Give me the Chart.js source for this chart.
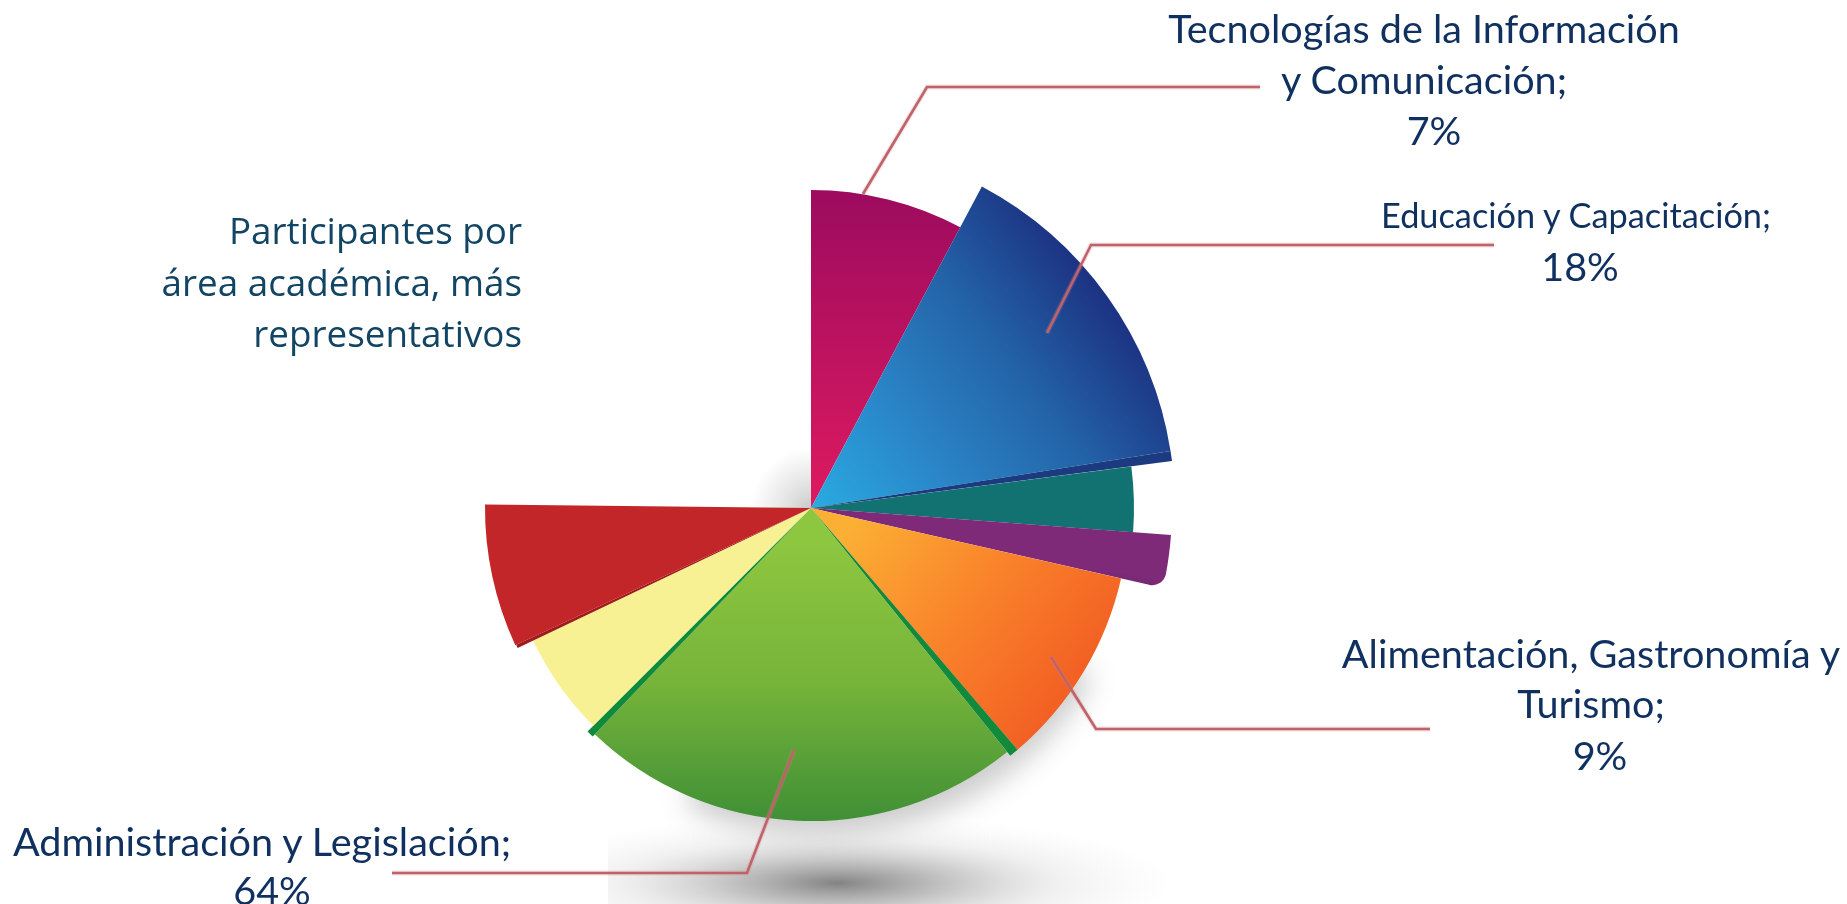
<!DOCTYPE html>
<html lang="es">
<head>
<meta charset="utf-8">
<title>Participantes por área académica</title>
<script src="https://cdn.jsdelivr.net/npm/chart.js@4"></script>
<style>
html,body{margin:0;padding:0;background:#fff;overflow:hidden}
#wrap{position:relative;width:1847px;height:904px;overflow:hidden}
canvas{position:absolute;left:0;top:0}
.t{position:absolute;white-space:nowrap;font-family:Lato,sans-serif;color:#10305f;line-height:1;font-size:39.6px;transform:translate(-50%,0)}
.title{position:absolute;white-space:nowrap;font-family:"Open Sans",sans-serif;color:#124563;font-size:36.8px;text-align:right;right:1325px;top:205px;line-height:51.5px}
</style>
</head>
<body>
<div id="wrap">
<canvas id="c" width="1847" height="904"></canvas>
<div class="title">Participantes por<br>área académica, más<br>representativos</div>
<div class="t" style="left:1424px;top:8px">Tecnologías de la Información</div>
<div class="t" style="left:1424px;top:59px">y Comunicación;</div>
<div class="t" style="left:1434px;top:110px">7%</div>
<div class="t" style="left:1576px;top:198px;font-size:34.3px">Educación y Capacitación;</div>
<div class="t" style="left:1580px;top:246px">18%</div>
<div class="t" style="left:1591px;top:633px">Alimentación, Gastronomía y</div>
<div class="t" style="left:1591px;top:683px">Turismo;</div>
<div class="t" style="left:1600px;top:735px">9%</div>
<div class="t" style="left:262px;top:821px">Administración y Legislación;</div>
<div class="t" style="left:272px;top:870px">64%</div>
</div>
<script>
const sliceLabels = ['Tecnologías de la Información y Comunicación','Educación y Capacitación','Educación y Capacitación (borde)','Área sin etiqueta 1','Área sin etiqueta 2','Alimentación, Gastronomía y Turismo','Administración y Legislación (borde)','Administración y Legislación','Administración y Legislación (borde)','Área sin etiqueta 3','Área sin etiqueta 4 (borde)','Área sin etiqueta 4'];
const sliceSweeps = [28,53,1.6,11.7,8.5,36.7,1.7,82.5,1.3,19.5,0.6,25.5];
const sliceRadii = [318,364,364,323,361,318,318,313,316,308,325,326];

const sliceFills = [
  {from:[0,-0.86],to:[0,0],stops:['#9c0b5e','#de1a60']},
  {from:[0,0],to:[0.78,-0.6],stops:['#29abe2','#2a86c8','#2364a8','#1c3282']},
  {solid:'#1b3a80'},
  {solid:'#127272'},
  {from:[0.8,0.1],to:[0.78,0.24],stops:['#7e2a78','#7e2a78','#56205e']},
  {from:[0.06,0.1],to:[0.7,0.6],stops:['#fbb034','#f9812a','#f15a22']},
  {solid:'#128a3c'},
  {from:[0,0.1],to:[0,0.85],stops:['#8dc63f','#76b43a','#3f8f36']},
  {solid:'#128a3c'},
  {solid:'#f8f194'},
  {solid:'#a01b1e'},
  {solid:'#c32628'}
];
const sliceCorners = [0,0,0,0,{outerEnd:14},0,0,0,0,0,0,0];

const leaders = [
  [[863,194],[927,87],[1260,87]],
  [[1047,333],[1091,245],[1494,245]],
  [[1051,657],[1096,729],[1430,729]],
  [[794,750],[747,873],[392,873]]
];

const backdrop = {
  id:'backdrop',
  beforeDatasetsDraw(chart){
    const c = chart.ctx, s = chart.scales.r, x = s.xCenter, y = s.yCenter;
    c.save();
    c.filter = 'blur(14px)';
    c.fillStyle = 'rgba(0,0,0,.2)';
    c.beginPath(); c.moveTo(x,y);
    c.arc(x+8,y+12,316,30*Math.PI/180,115*Math.PI/180);
    c.closePath(); c.fill();
    c.filter = 'none';
    let g = c.createRadialGradient(x,y,0,x,y,60);
    g.addColorStop(0,'rgba(0,0,0,.18)'); g.addColorStop(1,'rgba(0,0,0,0)');
    c.fillStyle = g; c.fillRect(x-60,y-60,60,60);
    c.restore();
    c.save();
    c.beginPath(); c.rect(608,780,720,124); c.clip();
    c.translate(x+27,y+375); c.scale(1,0.2);
    g = c.createRadialGradient(0,0,0,0,0,340);
    g.addColorStop(0,'rgba(100,100,100,.8)'); g.addColorStop(0.3,'rgba(140,140,140,.55)'); g.addColorStop(0.65,'rgba(190,190,190,.22)'); g.addColorStop(1,'rgba(220,220,220,0)');
    c.fillStyle = g; c.beginPath(); c.arc(0,0,340,0,Math.PI*2); c.fill();
    c.restore();
  },
  afterDatasetsDraw(chart){
    const c = chart.ctx;
    c.save();
    leaders.forEach(pts=>{
      c.beginPath();
      pts.forEach((p,i)=> i?c.lineTo(p[0],p[1]):c.moveTo(p[0],p[1]));
      c.lineJoin='miter';
      c.lineWidth=5; c.strokeStyle='rgba(210,130,130,.25)'; c.stroke();
      c.lineWidth=2.6; c.strokeStyle='#c0626a'; c.stroke();
    });
    c.restore();
  }
};

function fillFor(ctx){
  const f = sliceFills[ctx.dataIndex];
  if(!f) return '#000';
  if(f.solid) return f.solid;
  const s = ctx.chart.scales.r;
  if(!s || !s.drawingArea) return f.stops[0];
  const R = s.drawingArea, x = s.xCenter, y = s.yCenter;
  const g = ctx.chart.ctx.createLinearGradient(x+f.from[0]*R,y+f.from[1]*R,x+f.to[0]*R,y+f.to[1]*R);
  f.stops.forEach((col,i)=>g.addColorStop(i/(f.stops.length-1),col));
  return g;
}

new Chart(document.getElementById('c'),{
  type:'polarArea',
  data:{labels:sliceLabels,datasets:[{data:sliceRadii,angle:sliceSweeps,backgroundColor:fillFor,borderWidth:0,borderRadius:ctx=>sliceCorners[ctx.dataIndex]||0}]},
  options:{
    responsive:false,animation:false,
    layout:{padding:{left:441,right:666,top:138,bottom:26}},
    plugins:{legend:{display:false},tooltip:{enabled:false}},
    scales:{r:{display:false,min:0,max:370}}
  },
  plugins:[backdrop]
});
</script>
</body>
</html>
